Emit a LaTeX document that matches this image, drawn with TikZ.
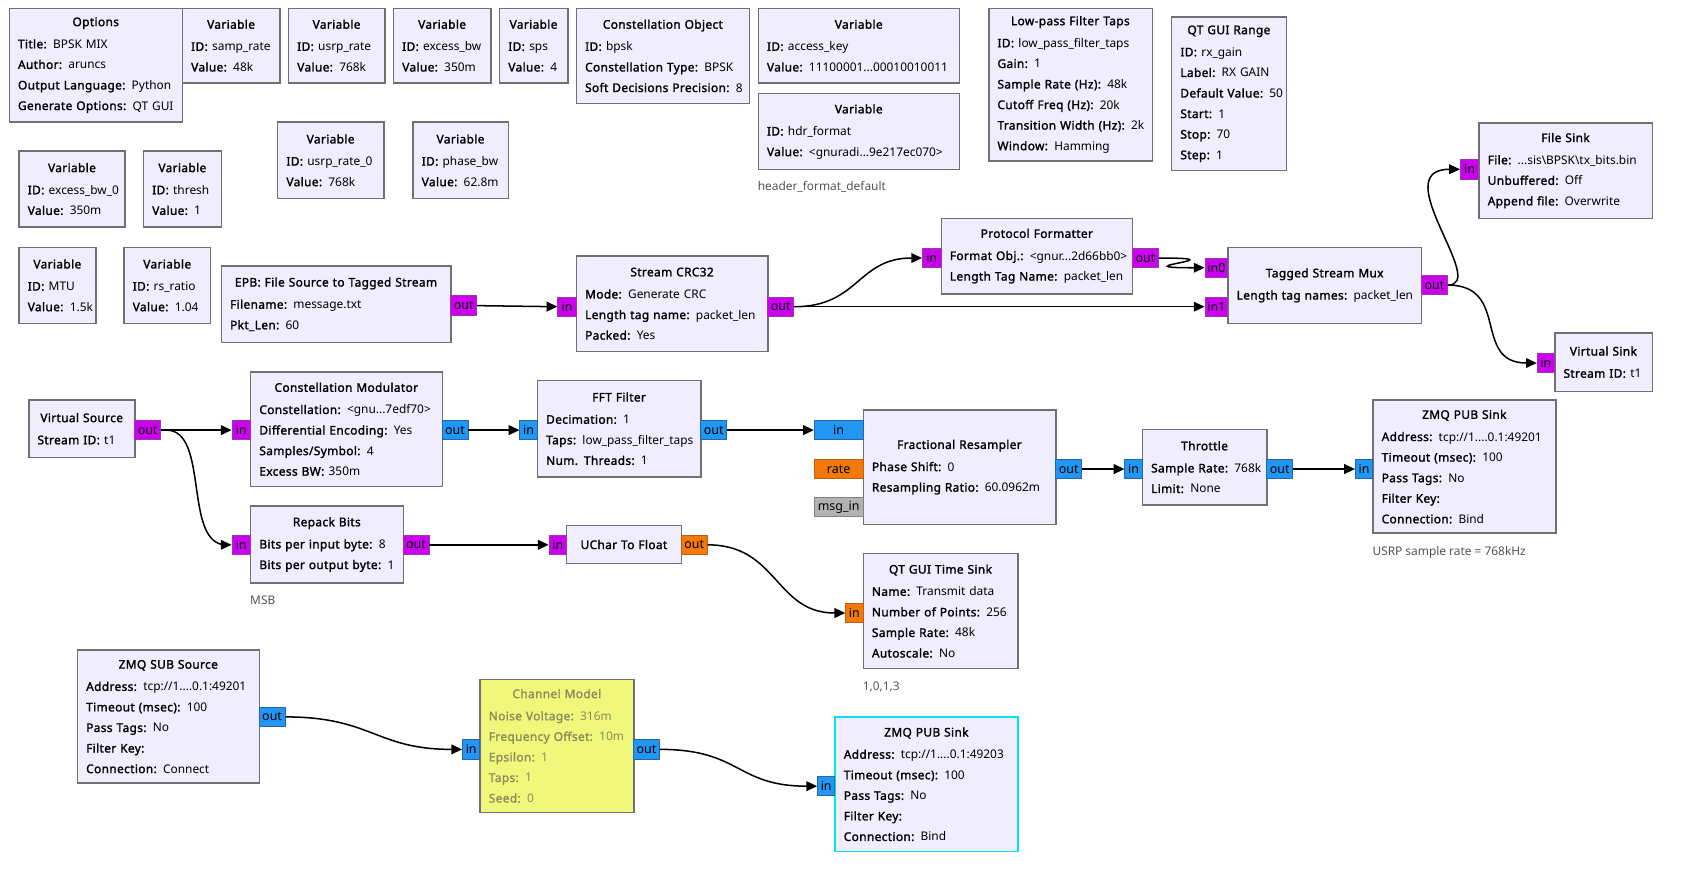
\documentclass[tikz,border=0pt]{standalone}
\usepackage{fontspec}
\setmainfont{Noto Sans}[BoldFont={Noto Sans}, BoldFeatures={FakeBold=1.6,LetterSpace=3}]
\usetikzlibrary{arrows.meta}
\definecolor{blkfill}{RGB}{240,237,255}
\definecolor{blkdraw}{RGB}{112,112,112}
\definecolor{pbyte}{RGB}{204,0,238}
\definecolor{pbyted}{RGB}{150,60,170}
\definecolor{pcplx}{RGB}{33,150,243}
\definecolor{pcplxd}{RGB}{40,100,170}
\definecolor{pflt}{RGB}{243,122,10}
\definecolor{pfltd}{RGB}{190,95,20}
\definecolor{pmsg}{RGB}{178,178,178}
\definecolor{pmsgd}{RGB}{130,130,130}
\definecolor{chfill}{RGB}{241,247,122}
\definecolor{chtext}{RGB}{140,140,95}
\definecolor{cyanb}{RGB}{0,228,240}
\definecolor{cmt}{RGB}{85,85,85}
\tikzset{
  blk/.style={draw=blkdraw, line width=1.3pt, fill=blkfill, anchor=north west,
    inner sep=0pt, align=center, font=\fontsize{11}{19}\selectfont},
  chblk/.style={blk, fill=chfill, text=chtext},
  cyblk/.style={blk, draw=cyanb},
  port/.style={anchor=north west, inner sep=0pt, minimum height=18pt,
    line width=0.8pt, font=\fontsize{11.5}{12}\selectfont, text=black},
  bport/.style={port, fill=pbyte, draw=pbyted},
  cport/.style={port, fill=pcplx, draw=pcplxd},
  fport/.style={port, fill=pflt, draw=pfltd},
  mport/.style={port, fill=pmsg, draw=pmsgd},
  conn/.style={draw=black, line width=1.4pt, -{Triangle[length=10pt,width=9pt]}},
  cmtxt/.style={anchor=west, inner sep=0pt, text=cmt, font=\fontsize{11}{13}\selectfont}
}
\newcommand\ttl[1]{\textbf{#1}\\[1.5pt]}
\newcommand\kv[2]{\makebox[\linewidth][l]{\textbf{#1:} #2}}
\newcommand\kk[1]{\makebox[\linewidth][l]{\textbf{#1:}}}
\newcommand\blk[7][blk]{\pgfmathsetmacro\tw{#5-16}%
  \node[#1, minimum width=#5pt, minimum height=#6pt, text width=\tw pt] (#2) at (#3,#4) {#7};}
\newcommand\prt[6]{\node[#1, minimum width=#5pt] (#2) at (#3,#4) {#6};}
\begin{document}
\begin{tikzpicture}[x=1pt,y=-1pt]
\path[use as bounding box, fill=white] (0,0) rectangle (1568,823);
% variables and options
\blk{opt}{8}{7}{160}{105}{\ttl{Options}\kv{Title}{BPSK MIX}\\\kv{Author}{aruncs}\\\kv{Output Language}{Python}\\\kv{Generate Options}{QT GUI}}
\blk{vsamp}{168}{7}{90}{69}{\ttl{Variable}\kv{ID}{samp\_rate}\\\kv{Value}{48k}}
\blk{vusrp}{266}{7}{89}{69}{\ttl{Variable}\kv{ID}{usrp\_rate}\\\kv{Value}{768k}}
\blk{vexbw}{363}{7}{90}{69}{\ttl{Variable}\kv{ID}{excess\_bw}\\\kv{Value}{350m}}
\blk{vsps}{461}{7}{63}{69}{\ttl{Variable}\kv{ID}{sps}\\\kv{Value}{4}}
\blk{cobj}{532}{7}{160}{88}{\ttl{Constellation Object}\kv{ID}{bpsk}\\\kv{Constellation Type}{BPSK}\\\kv{Soft Decisions Precision}{8}}
\blk{vkey}{700}{7}{186}{69}{\ttl{Variable}\kv{ID}{access\_key}\\\kv{Value}{11100001...00010010011}}
\blk{vhdr}{700}{86}{186}{70}{\ttl{Variable}\kv{ID}{hdr\_format}\\\kv{Value}{<gnuradi...9e217ec070>}}
\blk{lpf}{913}{7}{151}{141}{\ttl{Low-pass Filter Taps}\kv{ID}{low\_pass\_filter\_taps}\\\kv{Gain}{1}\\\kv{Sample Rate (Hz)}{48k}\\\kv{Cutoff Freq (Hz)}{20k}\\\kv{Transition Width (Hz)}{2k}\\\kv{Window}{Hamming}}
\blk{rng}{1082}{15}{106}{142}{\ttl{QT GUI Range}\kv{ID}{rx\_gain}\\\kv{Label}{RX GAIN}\\\kv{Default Value}{50}\\\kv{Start}{1}\\\kv{Stop}{70}\\\kv{Step}{1}}
\blk{vusrp0}{256}{112}{98}{71}{\ttl{Variable}\kv{ID}{usrp\_rate\_0}\\\kv{Value}{768k}}
\blk{vphase}{381}{112}{88}{71}{\ttl{Variable}\kv{ID}{phase\_bw}\\\kv{Value}{62.8m}}
\blk{vexbw0}{17}{139}{98}{70}{\ttl{Variable}\kv{ID}{excess\_bw\_0}\\\kv{Value}{350m}}
\blk{vthr}{132}{139}{72}{70}{\ttl{Variable}\kv{ID}{thresh}\\\kv{Value}{1}}
\blk{vmtu}{17}{228}{71}{70}{\ttl{Variable}\kv{ID}{MTU}\\\kv{Value}{1.5k}}
\blk{vrs}{114}{228}{80}{70}{\ttl{Variable}\kv{ID}{rs\_ratio}\\\kv{Value}{1.04}}
\node[cmtxt] (c1) at (700,173) {header\_format\_default};
% TX chain
\blk{epb}{204}{245}{212}{71}{\ttl{EPB: File Source to Tagged Stream}\kv{Filename}{message.txt}\\\kv{Pkt\_Len}{60}}
\blk{crc}{532}{236}{177}{88}{\ttl{Stream CRC32}\kv{Mode}{Generate CRC}\\\kv{Length tag name}{packet\_len}\\\kv{Packed}{Yes}}
\blk{pf}{869}{201}{177}{70}{\ttl{Protocol Formatter}\kv{Format Obj.}{<gnur...2d66bb0>}\\\kv{Length Tag Name}{packet\_len}}
\blk{mux}{1134}{228}{179}{70}{\ttl{Tagged Stream Mux}\kv{Length tag names}{packet\_len}}
\blk{fsink}{1366}{113}{160}{88}{\ttl{File Sink}\kv{File}{...sis\textbackslash BPSK\textbackslash tx\_bits.bin}\\\kv{Unbuffered}{Off}\\\kv{Append file}{Overwrite}}
\blk{vsink}{1436}{307}{90}{54}{\ttl{Virtual Sink}\kv{Stream ID}{t1}}
\prt{bport}{epb-out}{416}{273}{24}{out}
\prt{bport}{crc-in}{515}{274}{17}{in}
\prt{bport}{crc-out}{709}{274}{24}{out}
\prt{bport}{pf-in}{852}{229}{17}{in}
\prt{bport}{pf-out}{1046}{229}{24}{out}
\prt{bport}{mux-in0}{1113}{238}{21}{in0}
\prt{bport}{mux-in1}{1113}{274}{21}{in1}
\prt{bport}{mux-out}{1313}{254}{24}{out}
\prt{bport}{fs-in}{1349}{147}{17}{in}
\prt{bport}{vs-in}{1420}{326}{16}{in}
% modulation chain
\blk{vsrc}{26}{369}{98}{53}{\ttl{Virtual Source}\kv{Stream ID}{t1}}
\blk{cmod}{231}{343}{177}{106}{\ttl{Constellation Modulator}\kv{Constellation}{<gnu...7edf70>}\\\kv{Differential Encoding}{Yes}\\\kv{Samples/Symbol}{4}\\\kv{Excess BW}{350m}}
\blk{fft}{496}{351}{151}{89}{\ttl{FFT Filter}\kv{Decimation}{1}\\\kv{Taps}{low\_pass\_filter\_taps}\\\kv{Num. Threads}{1}}
\blk{fres}{797}{378}{178}{106}{\ttl{Fractional Resampler}\kv{Phase Shift}{0}\\\kv{Resampling Ratio}{60.0962m}}
\blk{thr}{1055}{396}{115}{70}{\ttl{Throttle}\kv{Sample Rate}{768k}\\\kv{Limit}{None}}
\blk{zpub}{1268}{369}{169}{123}{\ttl{ZMQ PUB Sink}\kv{Address}{tcp://1....0.1:49201}\\\kv{Timeout (msec)}{100}\\\kv{Pass Tags}{No}\\\kk{Filter Key}\\\kv{Connection}{Bind}}
\node[cmtxt] (c2) at (1268,510) {USRP sample rate = 768kHz};
\blk{rep}{231}{467}{141}{71}{\ttl{Repack Bits}\kv{Bits per input byte}{8}\\\kv{Bits per output byte}{1}}
\node[cmtxt] (c3) at (231,555) {MSB};
\blk{u2f}{523}{485}{106}{35}{\textbf{UChar To Float}}
\blk{tsink}{797}{511}{143}{106}{\ttl{QT GUI Time Sink}\kv{Name}{Transmit data}\\\kv{Number of Points}{256}\\\kv{Sample Rate}{48k}\\\kv{Autoscale}{No}}
\node[cmtxt] (c4) at (797,635) {1,0,1,3};
\prt{bport}{vsrc-out}{124}{388}{24}{out}
\prt{bport}{cmod-in}{214}{388}{17}{in}
\prt{cport}{cmod-out}{408}{388}{24}{out}
\prt{cport}{fft-in}{480}{388}{16}{in}
\prt{cport}{fft-out}{647}{388}{24}{out}
\prt{cport}{fres-in}{752}{388}{45}{in}
\prt{fport}{fres-rate}{752}{424}{45}{rate}
\prt{mport}{fres-msg}{752}{459}{45}{msg\_in}
\prt{cport}{fres-out}{975}{424}{24}{out}
\prt{cport}{thr-in}{1039}{424}{16}{in}
\prt{cport}{thr-out}{1170}{424}{24}{out}
\prt{cport}{zpub-in}{1252}{424}{16}{in}
\prt{bport}{rep-in}{214}{494}{17}{in}
\prt{bport}{rep-out}{372}{494}{24}{out}
\prt{bport}{u2f-in}{507}{494}{16}{in}
\prt{fport}{u2f-out}{629}{494}{24}{out}
\prt{fport}{ts-in}{781}{557}{16}{in}
% channel
\blk{zsub}{71}{600}{168}{123}{\ttl{ZMQ SUB Source}\kv{Address}{tcp://1....0.1:49201}\\\kv{Timeout (msec)}{100}\\\kv{Pass Tags}{No}\\\kk{Filter Key}\\\kv{Connection}{Connect}}
\blk[chblk]{chm}{443}{627}{142}{123}{\ttl{Channel Model}\kv{Noise Voltage}{316m}\\\kv{Frequency Offset}{10m}\\\kv{Epsilon}{1}\\\kv{Taps}{1}\\\kv{Seed}{0}}
\blk[cyblk]{zpub2}{771}{662}{169}{124}{\ttl{ZMQ PUB Sink}\kv{Address}{tcp://1....0.1:49203}\\\kv{Timeout (msec)}{100}\\\kv{Pass Tags}{No}\\\kk{Filter Key}\\\kv{Connection}{Bind}}
\prt{cport}{zsub-out}{239}{653}{24}{out}
\prt{cport}{chm-in}{427}{683}{16}{in}
\prt{cport}{chm-out}{585}{683}{24}{out}
\prt{cport}{zpub2-in}{755}{717}{16}{in}
% connections
\draw[conn] (epb-out.east) -- (crc-in.west);
\draw[conn] (crc-out.east) .. controls +(60,0) and +(-60,0) .. (pf-in.west);
\draw[conn] (crc-out.east) -- (mux-in1.west);
\draw[conn] (pf-out.east) .. controls +(80,0) and +(-83,0) .. (mux-in0.west);
\draw[conn] (mux-out.east) .. controls +(38,0) and +(-69,0) .. (fs-in.west);
\draw[conn] (mux-out.east) .. controls +(58,0) and +(-60,0) .. (vs-in.west);
\draw[conn] (vsrc-out.east) -- (cmod-in.west);
\draw[conn] (vsrc-out.east) -- ++(5,0) .. controls +(40,0) and +(-40,0) .. ([xshift=-5pt]rep-in.west) -- (rep-in.west);
\draw[conn] (cmod-out.east) -- (fft-in.west);
\draw[conn] (fft-out.east) -- (fres-in.west);
\draw[conn] (fres-out.east) -- (thr-in.west);
\draw[conn] (thr-out.east) -- (zpub-in.west);
\draw[conn] (rep-out.east) -- (u2f-in.west);
\draw[conn] (u2f-out.east) .. controls +(65,0) and +(-65,0) .. (ts-in.west);
\draw[conn] (zsub-out.east) .. controls +(80,0) and +(-80,0) .. (chm-in.west);
\draw[conn] (chm-out.east) .. controls +(75,0) and +(-75,0) .. (zpub2-in.west);
\end{tikzpicture}
\end{document}
